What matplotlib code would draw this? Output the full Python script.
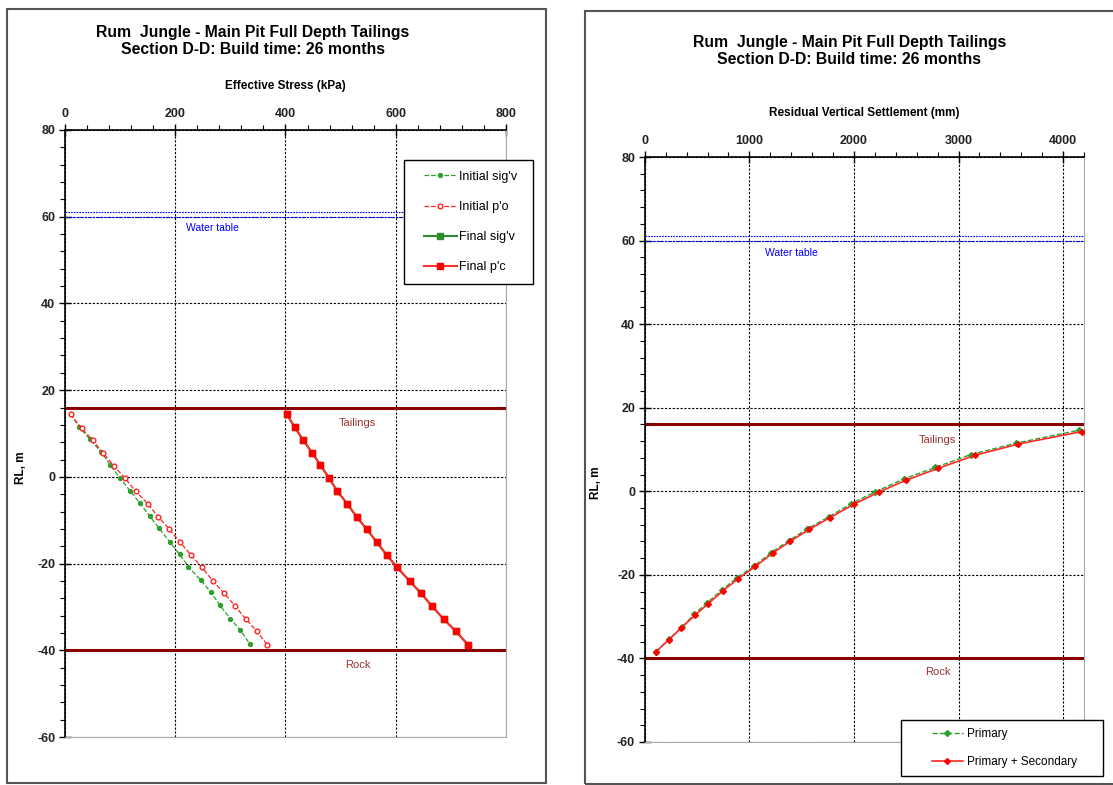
import matplotlib
matplotlib.use("Agg")
import matplotlib.pyplot as plt
from matplotlib.patches import Rectangle
from matplotlib.ticker import MultipleLocator

plt.rcParams["font.family"] = ["Liberation Sans", "DejaVu Sans"]
plt.rcParams["axes.unicode_minus"] = False

# ---- left panel data (effective stress, kPa vs RL, m) ----
rl_init_sv = [14.5, 11.5, 8.7, 5.8, 2.8, -0.2, -3.2, -6.1, -9.1, -11.9, -15.0,
              -17.9, -20.7, -23.8, -26.5, -29.6, -32.7, -35.3, -38.5]
init_sv = [10, 26, 45, 65, 82, 99, 118, 136, 154, 171, 190,
           208, 224, 246, 264, 281, 300, 318, 335]
rl_init_po = [14.5, 11.2, 8.5, 5.5, 2.6, -0.3, -3.3, -6.2, -9.2, -12.0, -15.1,
              -18.1, -20.8, -24.0, -26.7, -29.7, -32.8, -35.6, -38.7]
init_po = [10, 30, 50, 69, 88, 109, 128, 150, 169, 189, 209,
           229, 248, 268, 288, 308, 328, 348, 367]
rl_final = [14.5, 11.4, 8.5, 5.6, 2.8, -0.3, -3.3, -6.2, -9.2, -12.0, -15.1,
            -18.1, -20.8, -24.0, -26.7, -29.7, -32.8, -35.6, -38.7]
final_sv = [402, 417, 432, 448, 463, 479, 494, 512, 529, 547, 566,
            584, 602, 625, 645, 665, 687, 709, 731]
final_pc = [402, 417, 432, 448, 463, 479, 494, 512, 529, 547, 566,
            584, 602, 625, 645, 665, 687, 709, 731]

# ---- right panel data (residual settlement, mm vs RL, m) ----
rl_primary = [-38.4, -35.4, -32.6, -29.4, -26.7, -23.6, -20.7, -17.9, -14.7, -11.8,
              -9.0, -6.1, -3.0, -0.1, 2.9, 5.7, 8.8, 11.5, 14.6]
primary = [107, 232, 353, 474, 595, 739, 882, 1045, 1208, 1377,
           1555, 1760, 1973, 2206, 2474, 2777, 3119, 3549, 4149]
rl_secondary = [-38.4, -35.5, -32.7, -29.6, -26.9, -23.8, -20.9, -18.0, -14.8, -12.0,
                -9.1, -6.3, -3.1, -0.2, 2.6, 5.5, 8.6, 11.3, 14.3]
prim_sec = [107, 232, 349, 483, 608, 748, 895, 1057, 1224, 1389,
            1574, 1772, 1999, 2238, 2493, 2806, 3157, 3571, 4181]

water_table = [61, 60]
tailings_rl = 16
rock_rl = -40

title = "Rum  Jungle - Main Pit Full Depth Tailings\nSection D-D: Build time: 26 months"

fig = plt.figure(figsize=(11.13, 7.85), dpi=100)

# panel frames
fig.patches.append(Rectangle((0.0063, 0.0025), 0.4843, 0.986, transform=fig.transFigure,
                             fill=False, edgecolor="#555555", linewidth=1.5))
fig.patches.append(Rectangle((0.5256, 0.0013), 0.5, 0.9847, transform=fig.transFigure,
                             fill=False, edgecolor="#555555", linewidth=1.5))

ax1 = fig.add_axes([0.0584, 0.0611, 0.3962, 0.7733])
ax2 = fig.add_axes([0.5793, 0.0548, 0.3947, 0.7452])


def style_axis(ax, xmax, xmajor, xminor, xlabel, ylab_x):
    ax.set_xlim(0, xmax)
    ax.set_ylim(-60, 80)
    ax.xaxis.set_major_locator(MultipleLocator(xmajor))
    ax.xaxis.set_minor_locator(MultipleLocator(xminor))
    ax.yaxis.set_major_locator(MultipleLocator(20))
    ax.yaxis.set_minor_locator(MultipleLocator(4))
    ax.xaxis.tick_top()
    ax.xaxis.set_label_position("top")
    ax.tick_params(which="major", direction="inout", length=8, width=1,
                   labelsize=9, pad=3, top=True, bottom=False, left=True, right=False)
    ax.tick_params(which="minor", direction="out", length=3.5, width=0.8,
                   top=True, bottom=False, left=True, right=False)
    for lab in ax.get_xticklabels() + ax.get_yticklabels():
        lab.set_fontweight("bold")
        lab.set_color("#222222")
    ax.grid(True, which="major", color="black", linestyle=(0, (2, 1.5)), linewidth=0.8)
    ax.set_axisbelow(True)
    ax.spines["left"].set_color("black")
    ax.spines["top"].set_color("black")
    ax.spines["left"].set_linewidth(1.2)
    ax.spines["top"].set_linewidth(1.2)
    ax.spines["right"].set_color("#aaaaaa")
    ax.spines["bottom"].set_color("#aaaaaa")
    ax.set_xlabel(xlabel, fontsize=8.5, fontweight="bold", labelpad=14)
    ax.set_ylabel("RL, m", fontsize=8.5, fontweight="bold")
    ax.yaxis.set_label_coords(ylab_x, 0.443)


style_axis(ax1, 800, 200, 40, "Effective Stress (kPa)", -0.086)
style_axis(ax2, 4200, 1000, 200, "Residual Vertical Settlement (mm)", -0.0975)

for ax in (ax1, ax2):
    for wt in water_table:
        ax.axhline(wt, color="blue", linestyle=(0, (1.5, 1)), linewidth=0.8, zorder=2)
    ax.axhline(tailings_rl, color="#8b0000", linewidth=2.2, zorder=2)
    ax.axhline(rock_rl, color="#8b0000", linewidth=2.2, zorder=2)

# left panel series
ax1.plot(init_sv, rl_init_sv, color="#2ca02c", linestyle="--", linewidth=0.9,
         marker="o", markersize=2.8, label="Initial sig'v", zorder=4)
ax1.plot(init_po, rl_init_po, color="#ff2222", linestyle="--", linewidth=0.9,
         marker="o", markersize=3.4, markerfacecolor="white", markeredgewidth=1.0,
         label="Initial p'o", zorder=4)
ax1.plot(final_sv, rl_final, color="#2e8b2e", linestyle="-", linewidth=1.5,
         marker="s", markersize=4.3, label="Final sig'v", zorder=4)
ax1.plot(final_pc, rl_final, color="#ff3030", linestyle="-", linewidth=1.5,
         marker="s", markersize=3.8, markerfacecolor="red", markeredgecolor="red",
         label="Final p'c", zorder=5)

ax1.text(267, 57.3, "Water table", color="blue", fontsize=7.5, ha="center", va="center")
ax1.text(531, 12.4, "Tailings", color="#993333", fontsize=8, ha="center", va="center")
ax1.text(531, -43.3, "Rock", color="#993333", fontsize=8, ha="center", va="center")

# left legend: frame drawn separately (Excel-style box)
fig.patches.append(Rectangle((0.363, 0.6382), 0.1159, 0.158, transform=fig.transFigure,
                             facecolor="white", edgecolor="black", linewidth=1.0,
                             zorder=20))
leg1 = fig.legend(*ax1.get_legend_handles_labels(), loc="center left",
                  bbox_to_anchor=(0.381, 0.7172), fontsize=9,
                  frameon=False, labelspacing=1.45, handlelength=2.6,
                  handletextpad=0.2, borderpad=0, borderaxespad=0)
leg1.set_zorder(21)

# right panel series
ax2.plot(primary, rl_primary, color="#2ca02c", linestyle="--", linewidth=1.0,
         marker="D", markersize=3, label="Primary", zorder=4)
ax2.plot(prim_sec, rl_secondary, color="#ff2a2a", linestyle="-", linewidth=1.2,
         marker="D", markersize=3, markerfacecolor="red", markeredgecolor="red",
         label="Primary + Secondary", zorder=5)

ax2.text(1400, 57.0, "Water table", color="blue", fontsize=7.5, ha="center", va="center")
ax2.text(2800, 12.3, "Tailings", color="#993333", fontsize=8, ha="center", va="center")
ax2.text(2800, -43.3, "Rock", color="#993333", fontsize=8, ha="center", va="center")

# right legend: frame drawn separately (wide Excel-style box)
fig.patches.append(Rectangle((0.8095, 0.0115), 0.1815, 0.0713, transform=fig.transFigure,
                             facecolor="white", edgecolor="black", linewidth=1.0,
                             zorder=20))
leg2 = fig.legend(*ax2.get_legend_handles_labels(), loc="center left",
                  bbox_to_anchor=(0.8374, 0.0471), fontsize=8.5,
                  frameon=False, labelspacing=1.4, handlelength=2.6,
                  handletextpad=0.4, borderpad=0, borderaxespad=0)
leg2.set_zorder(21)

fig.text(0.2273, 0.948, title, ha="center", va="center", fontsize=11.3,
         fontweight="bold", linespacing=1.2)
fig.text(0.763, 0.935, title, ha="center", va="center", fontsize=11.3,
         fontweight="bold", linespacing=1.2)

fig.savefig("out.png", dpi=100)
